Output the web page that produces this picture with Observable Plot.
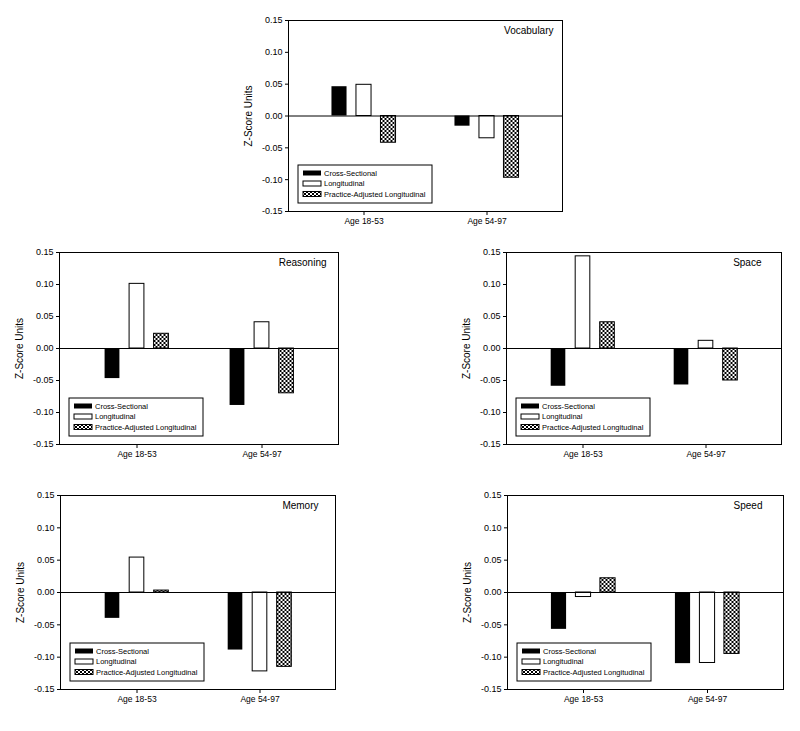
<!DOCTYPE html>
<html><head><meta charset="utf-8">
<script src="https://cdn.jsdelivr.net/npm/d3@7"></script>
<script src="https://cdn.jsdelivr.net/npm/@observablehq/plot@0.6"></script>
<style>
body{margin:0;background:#fff;}
#root{position:relative;width:800px;height:731px;font-family:"Liberation Sans",Arial,sans-serif;}
.panel{position:absolute;}
</style>
</head><body><div id="root"></div>
<script>
// ---- data ----
const ageGroups = ["Age 18-53", "Age 54-97"];
const seriesNames = ["Cross-Sectional", "Longitudinal", "Practice-Adjusted Longitudinal"];
const panelTitles = ["Vocabulary", "Reasoning", "Space", "Memory", "Speed"];
const yTickValues = [-0.15, -0.10, -0.05, 0, 0.05, 0.10, 0.15];
const yLabel = "Z-Score Units";
// values per age group: [Cross-Sectional, Longitudinal, Practice-Adjusted Longitudinal]
const vocabularyValues = [[0.046, 0.049, -0.042], [-0.016, -0.035, -0.097]];
const reasoningValues  = [[-0.047, 0.101, 0.023], [-0.089, 0.041, -0.070]];
const spaceValues      = [[-0.059, 0.144, 0.041], [-0.057, 0.012, -0.050]];
const memoryValues     = [[-0.040, 0.054, 0.003], [-0.089, -0.122, -0.115]];
const speedValues      = [[-0.057, -0.007, 0.022], [-0.110, -0.109, -0.095]];
const panelValues = [vocabularyValues, reasoningValues, spaceValues, memoryValues, speedValues];

// ---- layout (frame positions on the page) ----
const layouts = [
  {fx: 288, fy: 20,  w: 274, h: 191, titleDx: 9},
  {fx: 59,  fy: 252, w: 279, h: 192, titleDx: 12},
  {fx: 506, fy: 252, w: 275, h: 192, titleDx: 20},
  {fx: 60,  fy: 495, w: 275, h: 194, titleDx: 17},
  {fx: 507, fy: 495, w: 276, h: 194, titleDx: 21}
];
const mL = 52, mR = 6, mT = 4, mB = 26;
const padOuter = 0.11;
const barW = 15.5, barGap = 24.5;
const fills = ["black", "white", null];

const root = document.getElementById("root");

panelTitles.forEach((title, pi) => {
  const L = layouts[pi];
  const values = panelValues[pi];
  const patId = "checker" + pi;
  const data = ageGroups.flatMap((g, gi) => seriesNames.map((s, si) => ({group: g, series: s, value: values[gi][si]})));
  const step = L.w / (ageGroups.length + 2 * padOuter);
  const inset = (step - barW) / 2;
  const offsets = [-barGap, 0, barGap];
  const barMarks = seriesNames.map((s, si) => Plot.barY(data.filter(d => d.series === s), {
    x: "group", y: "value",
    fill: fills[si] || `url(#${patId})`,
    stroke: "black", strokeWidth: si === 0 ? 0 : 1,
    insetLeft: inset, insetRight: inset, dx: offsets[si]
  }));
  const chart = Plot.plot({
    width: L.w + mL + mR,
    height: L.h + mT + mB,
    marginLeft: mL, marginRight: mR, marginTop: mT, marginBottom: mB,
    style: {background: "white", color: "black", fontFamily: "'Liberation Sans', Arial, sans-serif"},
    x: {type: "band", domain: ageGroups, paddingInner: 0, paddingOuter: padOuter},
    y: {domain: [-0.15, 0.15]},
    marks: [
      ...barMarks,
      Plot.ruleY([0], {stroke: "black", strokeWidth: 1}),
      Plot.frame({stroke: "black", strokeWidth: 1}),
      Plot.axisY(yTickValues, {tickFormat: d => d.toFixed(2), tickSize: 3, tickPadding: 3, fontSize: 9,
        label: yLabel, labelAnchor: "center", labelOffset: 44}),
      Plot.axisX({tickSize: 4, tickPadding: 2, fontSize: 8.5, label: null}),
      Plot.text([title], {frameAnchor: "top-right", dx: -L.titleDx, dy: 6, fontSize: 10, fill: "black"})
    ]
  });
  const svg = d3.select(chart);
  svg.selectAll("[aria-label='y-axis label'] text").text(yLabel).attr("font-size", 10);
  const defs = svg.insert("defs", ":first-child");
  const pat = defs.append("pattern").attr("id", patId).attr("patternUnits", "userSpaceOnUse")
    .attr("width", 4).attr("height", 4);
  pat.append("rect").attr("width", 4).attr("height", 4).attr("fill", "black");
  pat.append("rect").attr("x", 0).attr("y", 0).attr("width", 2).attr("height", 2).attr("fill", "white");
  pat.append("rect").attr("x", 2).attr("y", 2).attr("width", 2).attr("height", 2).attr("fill", "white");

  // legend inside the frame, bottom-left
  const lgW = 134, lgH = 38;
  const lg = svg.append("g").attr("transform", `translate(${mL + 10},${mT + L.h - 8 - lgH})`)
    .attr("text-anchor", "start");
  lg.append("rect").attr("width", lgW).attr("height", lgH).attr("fill", "white").attr("stroke", "black").attr("stroke-width", 1);
  seriesNames.forEach((s, si) => {
    const cy = 8 + si * 10.5;
    lg.append("rect").attr("x", 5).attr("y", cy - 2.5).attr("width", 18).attr("height", 5)
      .attr("fill", fills[si] || `url(#${patId})`).attr("stroke", "black").attr("stroke-width", si === 0 ? 0 : 1);
    lg.append("text").attr("x", 26).attr("y", cy).attr("dy", "0.35em").attr("font-size", 7.5)
      .attr("text-anchor", "start").attr("fill", "black").text(s);
  });

  const div = document.createElement("div");
  div.className = "panel";
  div.style.left = (L.fx - mL) + "px";
  div.style.top = (L.fy - mT) + "px";
  div.appendChild(chart);
  root.appendChild(div);
});
</script>
</body></html>
